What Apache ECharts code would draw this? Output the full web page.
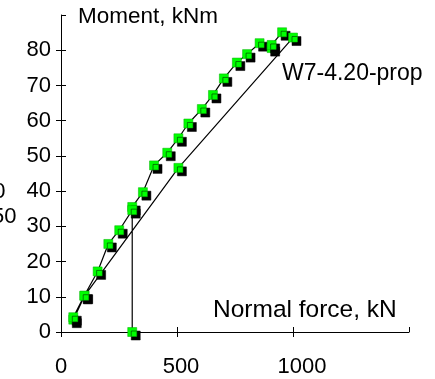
<!DOCTYPE html>
<html>
<head>
<meta charset="utf-8">
<script src="https://cdn.jsdelivr.net/npm/echarts@6/dist/echarts.min.js"></script>
<style>
  html, body { margin: 0; padding: 0; background: #fff; }
  #chart { width: 435px; height: 379px; }
</style>
</head>
<body>
<div id="chart"></div>
<script>
// Test path W7-4.20-prop: prop load step, loading branch, unloading line, reloading branch
const normalForce = [307, 307, 353, 401, 458, 506, 549, 607, 655, 702, 758, 802, 856, 908, 908, 953, 1000, 506, 102, 53, 53, 100, 158, 204, 251, 307];
const moment      = [0, 35.5, 39.7, 47.3, 50.9, 55.0, 59.2, 63.3, 67.3, 72.0, 76.5, 78.9, 82.0, 80.6, 81.5, 85.1, 83.6, 46.6, 10.3, 3.5, 4.2, 10.3, 17.2, 25.0, 28.9, 34.6];

const xTicks = [0, 500, 1000, 1500];
const yTicks = [0, 10, 20, 30, 40, 50, 60, 70, 80, 90];

const seriesName = 'W7-4.20-prop';
const yTitle = 'Moment, kNm';
const xTitle = 'Normal force, kN';

const FONT = '"Liberation Sans", Arial, sans-serif';
const points = normalForce.map((n, i) => [n, moment[i]]);

const chart = echarts.init(document.getElementById('chart'), null, { renderer: 'canvas' });

const xBase = {
  type: 'value',
  min: xTicks[0],
  max: xTicks[xTicks.length - 1],
  interval: xTicks[1] - xTicks[0],
  splitLine: { show: false },
  position: 'bottom'
};
const yBase = {
  type: 'value',
  min: yTicks[0],
  max: yTicks[yTicks.length - 1],
  interval: yTicks[1] - yTicks[0],
  splitLine: { show: false },
  position: 'left'
};

// x tick labels sit a little right of their ticks
const labelRich = {
  p0: { fontSize: 22, fontFamily: FONT, color: '#000' },
  p1: { fontSize: 22, fontFamily: FONT, color: '#000', padding: [0, 0, 0, 8] },
  p2: { fontSize: 22, fontFamily: FONT, color: '#000', padding: [0, 0, 0, 18] }
};
function xLabel(v) {
  const i = xTicks.indexOf(v);
  if (i < 0 || i === xTicks.length - 1) return '';
  return '{p' + i + '|' + String(v) + '}';
}

chart.setOption({
  animation: false,
  backgroundColor: '#fff',
  grid: { left: 61, right: 26, top: 15, bottom: 47, containLabel: false },
  xAxis: [
    Object.assign({}, xBase, {
      axisLine: { show: true, lineStyle: { color: '#000', width: 1 } },
      axisTick: { show: true, length: 5, lineStyle: { color: '#000', width: 1 } },
      axisLabel: {
        show: true, fontSize: 22, color: '#000', fontFamily: FONT, margin: 24,
        showMaxLabel: false, formatter: xLabel, rich: labelRich
      }
    }),
    Object.assign({}, xBase, {
      axisLine: { show: false },
      axisTick: { show: true, inside: true, length: 5, lineStyle: { color: '#000', width: 1 } },
      axisLabel: { show: false }
    })
  ],
  yAxis: [
    Object.assign({}, yBase, {
      axisLine: { show: true, lineStyle: { color: '#000', width: 1 } },
      axisTick: { show: true, length: 5, lineStyle: { color: '#000', width: 1 } },
      axisLabel: {
        show: true, fontSize: 22, color: '#000', fontFamily: FONT, margin: 10,
        showMaxLabel: false
      }
    }),
    Object.assign({}, yBase, {
      axisLine: { show: false },
      axisTick: { show: true, inside: true, length: 5, lineStyle: { color: '#000', width: 1 } },
      axisLabel: { show: false }
    })
  ],
  series: [{
    name: seriesName,
    type: 'line',
    xAxisIndex: 0,
    yAxisIndex: 0,
    data: points,
    showAllSymbol: true,
    symbol: 'rect',
    symbolSize: 9,
    lineStyle: { color: '#000', width: 1.2 },
    itemStyle: {
      color: '#00ff00',
      borderColor: '#00b000',
      borderWidth: 0.5,
      shadowColor: '#000',
      shadowBlur: 0,
      shadowOffsetX: 3.5,
      shadowOffsetY: 3.5
    },
    emphasis: { disabled: true },
    clip: false
  }],
  graphic: [
    { type: 'text', left: 78, top: 5, style: { text: yTitle, font: '22.5px ' + FONT, fill: '#000' } },
    { type: 'text', left: 213, top: 298, style: { text: xTitle, font: '24.5px ' + FONT, fill: '#000' } },
    { type: 'text', left: 282, top: 62, style: { text: seriesName, font: '23px ' + FONT, fill: '#000' } },
    { type: 'text', x: 5.5, y: 181, style: { text: '0', font: '22px ' + FONT, fill: '#000', textAlign: 'right', textVerticalAlign: 'top' } },
    { type: 'text', x: 16.5, y: 206, style: { text: '50', font: '22px ' + FONT, fill: '#000', textAlign: 'right', textVerticalAlign: 'top' } }
  ]
});
</script>
</body>
</html>
